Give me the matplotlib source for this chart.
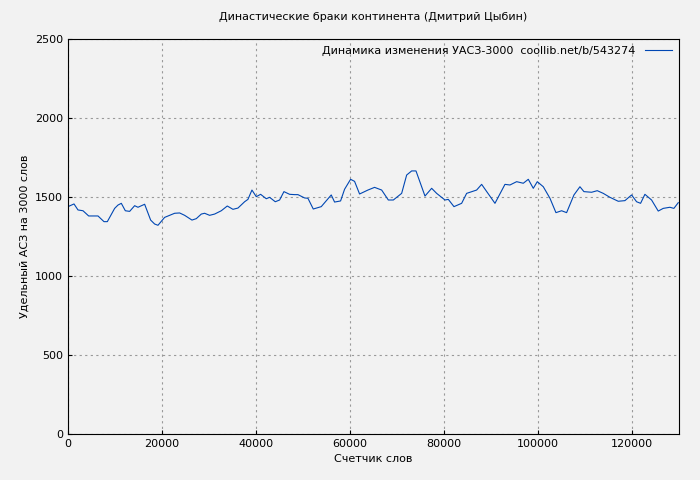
import matplotlib
matplotlib.use("Agg")
import matplotlib.pyplot as plt

x_words = [0,1276,2127,3190,4396,6381,7657,8366,9926,10635,11344,12195,13116,14180,14889,16307,17583,18434,19143,20561,22688,23752,24815,26375,27297,28360,29069,30133,31196,32614,33890,35095,36159,37577,38286,39137,40059,40980,42186,42895,44100,45022,45944,47149,48213,48922,50340,51049,52183,53884,56011,56720,57996,58847,60123,60974,62038,63811,65229,
           66737,68155,69218,70991,72054,73118,74040,75954,77372,78435,80208,80917,82122,83753,84816,86943,88007,90843,92970,94034,95452,96870,97934,98997,99848,101124,102542,103818,105023,106087,107647,108923,109773,111404,112609,113885,115303,117076,118494,119912,120975,121826,122747,124165,125583,126646,128064,128915,129837]
y_vals = [1439,1456,1418,1413,1380,1380,1344,1344,1428,1449,1460,1413,1409,1445,1435,1454,1354,1329,1321,1371,1397,1399,1384,1354,1363,1392,1397,1384,1392,1413,1443,1422,1430,1470,1485,1544,1502,1517,1489,1498,1470,1481,1534,1517,1515,1515,1494,1492,1424,1439,1513,1468,1475,1549,1612,1599,1519,1544,1561,
          1544,1481,1481,1523,1639,1665,1665,1506,1555,1523,1481,1485,1439,1460,1523,1544,1580,1460,1580,1576,1597,1587,1612,1555,1597,1565,1492,1401,1413,1401,1513,1565,1534,1530,1540,1523,1498,1473,1477,1513,1470,1460,1517,1481,1411,1428,1435,1428,1464]

title = "Династические браки континента (Дмитрий Цыбин)"
legend_label = "Динамика изменения УАСЗ-3000  coollib.net/b/543274"
xlabel = "Счетчик слов"
ylabel = "Удельный АСЗ на 3000 слов"

fig = plt.figure(figsize=(7, 4.8), dpi=100)
fig.patch.set_facecolor("#f2f2f2")
ax = fig.add_axes([68/700, 46/480, 611/700, 395/480])
ax.set_facecolor("#f2f2f2")
ax.plot(x_words, y_vals, color="#0047b3", lw=0.8, label=legend_label)
ax.set_xlim(0, 130000)
ax.set_ylim(0, 2500)
ax.set_xticks(range(0, 130001, 20000))
ax.set_yticks(range(0, 2501, 500))
ax.grid(True, color="#999999", ls=(0, (2, 3)), lw=0.8)
ax.tick_params(labelsize=8, direction="in", length=3)
for s in ax.spines.values():
    s.set_color("black")
ax.set_title(title, fontsize=8, pad=14)
ax.set_xlabel(xlabel, fontsize=8, labelpad=4)
ax.set_ylabel(ylabel, fontsize=8)
ax.legend(loc="upper right", frameon=False, fontsize=8, markerfirst=False, handlelength=2.5, borderaxespad=0.2)
fig.savefig("out.png", dpi=100, facecolor=fig.get_facecolor())
